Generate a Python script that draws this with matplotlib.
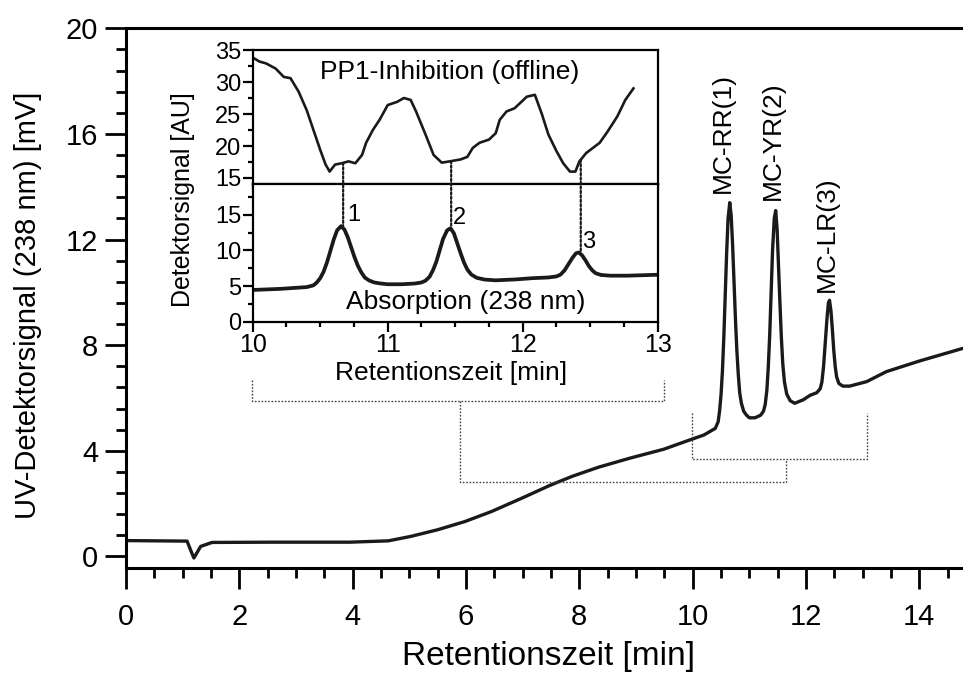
import numpy as np
import matplotlib
matplotlib.use('Agg')
import matplotlib.pyplot as plt
from matplotlib.ticker import MultipleLocator
from matplotlib.patches import ConnectionPatch

plt.rcParams['font.family'] = ['Liberation Sans', 'DejaVu Sans']

# ---- data: UV trace (238 nm) ----
main_time = [0.0, 1.08, 1.15, 1.20, 1.32, 1.52, 2.6, 3.95, 4.63, 5.03, 5.5, 5.98,
             6.45, 6.99, 7.47, 7.87, 8.34, 8.89, 9.49, 10.0, 10.2,
             10.40, 10.45, 10.475, 10.50, 10.525, 10.55, 10.575, 10.60, 10.625,
             10.655, 10.68, 10.705, 10.73, 10.755, 10.78, 10.805, 10.83, 10.86,
             10.90, 10.95, 11.0, 11.1, 11.2,
             11.25, 11.28, 11.31, 11.335, 11.36, 11.385, 11.41, 11.44, 11.465,
             11.49, 11.515, 11.54, 11.565, 11.59, 11.62, 11.66, 11.72, 11.8,
             11.95, 12.07, 12.19, 12.25, 12.28, 12.31, 12.34, 12.37, 12.395,
             12.415, 12.44, 12.465, 12.49, 12.515, 12.54, 12.58, 12.65, 12.77,
             13.07, 13.42, 14.0, 14.8]
main_signal = [0.60, 0.58, 0.20, -0.06, 0.38, 0.53, 0.54, 0.54, 0.59, 0.76, 1.01, 1.32,
               1.70, 2.21, 2.68, 3.03, 3.38, 3.72, 4.06, 4.45, 4.60,
               4.85, 5.1, 5.5, 6.1, 7.0, 8.3, 9.9, 11.5, 12.8,
               13.4, 12.9, 11.8, 10.4, 9.0, 7.8, 6.9, 6.2, 5.8,
               5.5, 5.35, 5.25, 5.25, 5.35,
               5.5, 5.75, 6.3, 7.2, 8.4, 10.0, 11.6, 12.8, 13.1,
               12.4, 11.0, 9.6, 8.3, 7.3, 6.6, 6.15, 5.9, 5.8,
               5.93, 6.1, 6.2, 6.35, 6.6, 7.2, 8.1, 9.0, 9.6,
               9.7, 9.3, 8.6, 7.8, 7.2, 6.8, 6.55, 6.45, 6.45,
               6.62, 7.0, 7.4, 7.9]

# ---- data: PP1 inhibition (offline) ----
pp1_time = [10.01, 10.05, 10.10, 10.17, 10.23, 10.28, 10.34, 10.40, 10.45, 10.50,
            10.54, 10.57, 10.61, 10.66, 10.71, 10.76, 10.81, 10.84, 10.89, 10.94,
            11.00, 11.07, 11.12, 11.17, 11.21, 11.28, 11.34, 11.40, 11.46, 11.54,
            11.59, 11.63, 11.68, 11.75, 11.80, 11.83, 11.88, 11.94, 11.99, 12.03,
            12.09, 12.14, 12.19, 12.25, 12.30, 12.35, 12.39, 12.42, 12.47, 12.52,
            12.57, 12.63, 12.70, 12.76, 12.82]
pp1_signal = [33.7, 33.2, 32.9, 32.1, 30.8, 30.6, 28.5, 25.6, 22.5, 19.4,
              17.1, 16.0, 17.1, 17.3, 17.6, 17.3, 18.6, 20.5, 22.5, 24.1,
              26.4, 26.9, 27.5, 27.2, 25.4, 21.8, 18.6, 17.4, 17.6, 17.9,
              18.3, 19.7, 20.5, 21.0, 22.0, 24.1, 25.4, 25.9, 26.9, 27.7,
              28.0, 25.1, 21.8, 19.2, 17.3, 16.0, 16.0, 17.6, 18.9, 19.7,
              20.5, 22.3, 24.6, 27.2, 29.0]

peak_time = [10.67, 11.47, 12.43]
peak_numbers = ['1', '2', '3']
compound_names = ['MC-RR(1)', 'MC-YR(2)', 'MC-LR(3)']

LINE = '#1a1a1a'

fig = plt.figure(figsize=(9.63, 6.76), dpi=100)

# ---------------- main axes ----------------
ax = fig.add_axes([0.1307, 0.1593, 0.8693, 0.7988])
ax.plot(main_time, main_signal, color=LINE, lw=2.4, solid_joinstyle='round')
ax.set_xlim(0, 14.77)
ax.set_ylim(-0.45, 20)
ax.xaxis.set_major_locator(MultipleLocator(2))
ax.xaxis.set_minor_locator(MultipleLocator(0.5))
ax.yaxis.set_major_locator(MultipleLocator(4))
ax.yaxis.set_minor_locator(MultipleLocator(0.8))
ax.tick_params(which='major', direction='out', length=15, width=2.0, labelsize=21, pad=5)
ax.tick_params(which='minor', direction='out', length=7.5, width=2.0)
ax.tick_params(axis='x', which='major', pad=10)
for side in ['left', 'bottom', 'top']:
    ax.spines[side].set_linewidth(2.2)
ax.spines['right'].set_visible(False)

fig.text(28 / 963, 1 - 305 / 676, 'UV-Detektorsignal (238 nm) [mV]', rotation=90,
         ha='center', va='center', fontsize=21)
fig.text(548 / 963, 1 - 656 / 676, 'Retentionszeit [min]', ha='center', va='center',
         fontsize=24)

label_pos = [(10.54, 13.75), (11.42, 13.5), (12.36, 10.0)]
for name, (lx, ly) in zip(compound_names, label_pos):
    ax.text(lx, ly, name, rotation=90, ha='center', va='bottom', fontsize=19)

# dotted zoom brackets (annotation)
brk_kw = dict(color='#444444', lw=1.0, ls=(0, (1.2, 1.2)), clip_on=False)
ax.plot([2.22, 2.22, 9.50, 9.50], [6.7, 5.87, 5.87, 6.7], **brk_kw)
ax.plot([5.90, 5.90, 11.65, 11.65], [5.87, 2.82, 2.82, 3.70], **brk_kw)
ax.plot([9.99, 9.99, 13.07, 13.07], [5.44, 3.70, 3.70, 5.44], **brk_kw)

# ---------------- inset ----------------
ax_up = fig.add_axes([0.2624, 0.7278, 0.4206, 0.1982])
ax_lo = fig.add_axes([0.2624, 0.5241, 0.4206, 0.2037])

ax_up.plot(pp1_time, pp1_signal, color=LINE, lw=1.9)
ax_lo.plot(main_time, main_signal, color=LINE, lw=2.7, solid_joinstyle='round')

for a in (ax_up, ax_lo):
    a.set_xlim(10, 13)
    a.xaxis.set_major_locator(MultipleLocator(1))
    a.xaxis.set_minor_locator(MultipleLocator(0.25))
    a.yaxis.set_major_locator(MultipleLocator(5))
    a.yaxis.set_minor_locator(MultipleLocator(2.5))
    for s in a.spines.values():
        s.set_linewidth(1.6)
    a.tick_params(which='both', direction='out', width=1.6, top=False, right=False)
    a.tick_params(which='major', length=7)
    a.tick_params(which='minor', length=3.5)
    a.tick_params(axis='y', labelsize=17, pad=1)
    a.tick_params(axis='x', labelsize=18, pad=1)

ax_up.set_ylim(14.06, 35)
ax_up.tick_params(axis='x', labelbottom=False, length=4)
ax_up.tick_params(axis='x', which='minor', length=4)
ax_lo.set_ylim(0, 19.3)

ax_up.text(11.46, 31.6, 'PP1-Inhibition (offline)', ha='center', va='center', fontsize=19)
ax_lo.text(11.58, 2.8, 'Absorption (238 nm)', ha='center', va='center', fontsize=19)

fig.text(183 / 963, 1 - 200 / 676, 'Detektorsignal [AU]', rotation=90,
         ha='center', va='center', fontsize=18)
fig.text(451 / 963, 1 - 373 / 676, 'Retentionszeit [min]', ha='center', va='center',
         fontsize=19)

num_pos = [(10.70, 15.0), (11.48, 14.6), (12.44, 11.2)]
for t, num, (nx, ny) in zip(peak_time, peak_numbers, num_pos):
    up_val = np.interp(t, pp1_time, pp1_signal)
    lo_val = np.interp(t, main_time, main_signal) + 0.3
    con = ConnectionPatch(xyA=(t, up_val), coordsA=ax_up.transData,
                          xyB=(t, lo_val), coordsB=ax_lo.transData,
                          color=LINE, lw=1.6, ls=(0, (1, 1)))
    fig.add_artist(con)
    ax_lo.text(nx, ny, num, ha='left', va='center', fontsize=17)

fig.savefig('out.png', dpi=100)
